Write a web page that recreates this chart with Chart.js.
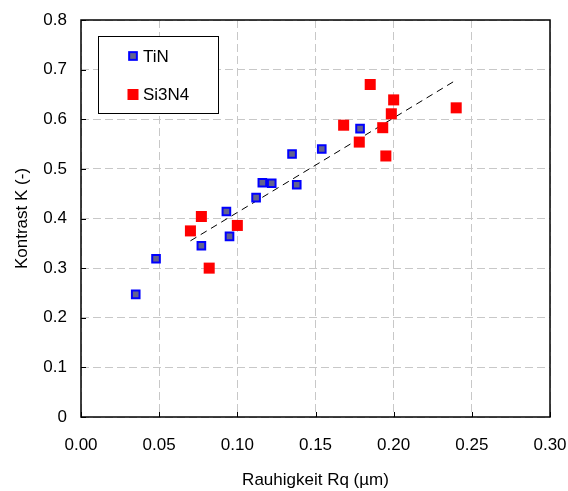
<!DOCTYPE html>
<html>
<head>
<meta charset="utf-8">
<script src="https://cdn.jsdelivr.net/npm/chart.js@4/dist/chart.umd.min.js"></script>
<style>
  html, body { margin: 0; padding: 0; background: #fff; }
  #wrap { width: 568px; height: 491px; }
</style>
</head>
<body>
<div id="wrap"><canvas id="chart" width="568" height="491"></canvas></div>
<script>
// data
const tinX = [0.035, 0.048, 0.077, 0.093, 0.095, 0.112, 0.116, 0.122, 0.138, 0.135, 0.154, 0.1785];
const tinY = [0.247, 0.319, 0.345, 0.414, 0.364, 0.442, 0.472, 0.471, 0.468, 0.530, 0.540, 0.581];
const siX = [0.070, 0.077, 0.082, 0.100, 0.168, 0.178, 0.185, 0.193, 0.195, 0.1985, 0.200, 0.240];
const siY = [0.375, 0.404, 0.300, 0.386, 0.588, 0.554, 0.670, 0.583, 0.526, 0.611, 0.639, 0.623];
const trendX = [0.070, 0.240];
const trendY = [0.355, 0.679];

const xTicks = [0, 0.05, 0.10, 0.15, 0.20, 0.25, 0.30];
const yTicks = [0, 0.1, 0.2, 0.3, 0.4, 0.5, 0.6, 0.7, 0.8];

const toPts = (xs, ys) => xs.map((x, i) => ({ x: x, y: ys[i] }));
const font = { family: 'Arial, "Liberation Sans", sans-serif', size: 17 };

// frame, inside ticks and boxed legend
const framePlugin = {
    id: 'frame',
    afterDraw(chart) {
        const { ctx, chartArea: a, scales } = chart;
        ctx.save();
        ctx.strokeStyle = '#000';
        ctx.lineWidth = 1.5;
        ctx.strokeRect(a.left, a.top, a.right - a.left, a.bottom - a.top);

        ctx.lineWidth = 1;
        xTicks.forEach(v => {
            const px = Math.round(scales.x.getPixelForValue(v)) + 0.5;
            ctx.beginPath(); ctx.moveTo(px, a.bottom); ctx.lineTo(px, a.bottom - 5); ctx.stroke();
        });
        yTicks.forEach(v => {
            const py = Math.round(scales.y.getPixelForValue(v)) + 0.5;
            ctx.beginPath(); ctx.moveTo(a.left, py); ctx.lineTo(a.left + 5, py); ctx.stroke();
        });

        // legend
        const lx = a.left + 17, ly = a.top + 16;
        ctx.fillStyle = '#fff';
        ctx.fillRect(lx, ly, 120, 77);
        ctx.strokeStyle = '#000';
        ctx.lineWidth = 1;
        ctx.strokeRect(lx + 0.5, ly + 0.5, 120, 77);
        const items = chart.data.datasets.filter(d => d.label);
        items.forEach((d, i) => {
            const cx = lx + 35, cy = ly + 20 + i * 38.5;
            const s = d.legendSize;
            ctx.fillStyle = d.backgroundColor;
            ctx.fillRect(cx - s / 2, cy - s / 2, s, s);
            if (d.borderWidth) {
                ctx.strokeStyle = d.borderColor;
                ctx.lineWidth = d.borderWidth;
                ctx.strokeRect(cx - s / 2, cy - s / 2, s, s);
            }
            ctx.fillStyle = '#000';
            ctx.font = '17px Arial, "Liberation Sans", sans-serif';
            ctx.textBaseline = 'middle';
            ctx.fillText(d.label, cx + 10, cy + 1);
        });
        ctx.restore();
    }
};

new Chart(document.getElementById('chart'), {
    type: 'scatter',
    data: {
        datasets: [
            {
                type: 'line',
                label: '',
                data: toPts(trendX, trendY),
                borderColor: '#000',
                borderWidth: 1,
                borderDash: [7, 5],
                pointRadius: 0,
                fill: false,
                order: 3
            },
            {
                label: 'TiN',
                data: toPts(tinX, tinY),
                pointStyle: 'rect',
                pointRadius: 5.4,
                pointBackgroundColor: '#62628e',
                pointBorderColor: '#0000ff',
                pointBorderWidth: 2,
                backgroundColor: '#62628e',
                borderColor: '#0000ff',
                borderWidth: 2,
                legendSize: 7.7,
                order: 1
            },
            {
                label: 'Si3N4',
                data: toPts(siX, siY),
                pointStyle: 'rect',
                pointRadius: 7.8,
                pointBackgroundColor: '#ff0000',
                pointBorderWidth: 0,
                backgroundColor: '#ff0000',
                borderWidth: 0,
                legendSize: 11,
                order: 2
            }
        ]
    },
    options: {
        responsive: false,
        animation: false,
        layout: { padding: { left: 0, right: 18, top: 20, bottom: 0 } },
        plugins: {
            legend: { display: false },
            tooltip: { enabled: false }
        },
        scales: {
            x: {
                type: 'linear',
                min: 0, max: 0.30,
                afterBuildTicks: s => { s.ticks = xTicks.map(v => ({ value: v })); },
                afterFit: s => { s.height = 74; s.paddingLeft = 0; s.paddingRight = 0; },
                ticks: {
                    color: '#000', font: font, padding: 18, maxRotation: 0,
                    callback: v => v.toFixed(2)
                },
                grid: { color: '#c8c8c8', lineWidth: 1, drawTicks: false },
                border: { display: false, dash: [8, 4] },
                title: {
                    display: true, text: 'Rauhigkeit Rq (µm)', color: '#000', font: font,
                    padding: { top: 0, bottom: 0 }
                }
            },
            y: {
                type: 'linear',
                min: 0, max: 0.8,
                afterBuildTicks: s => { s.ticks = yTicks.map(v => ({ value: v })); },
                afterFit: s => { s.width = 81; s.paddingTop = 0; s.paddingBottom = 0; },
                ticks: {
                    color: '#000', font: font, padding: 14,
                    callback: v => (v === 0 ? '0' : v.toFixed(1))
                },
                grid: { color: '#c8c8c8', lineWidth: 1, drawTicks: false },
                border: { display: false, dash: [8, 4] },
                title: {
                    display: true, text: 'Kontrast K (-)', color: '#000', font: font,
                    padding: { top: 12, bottom: 0 }
                }
            }
        }
    },
    plugins: [framePlugin]
});
</script>
</body>
</html>
